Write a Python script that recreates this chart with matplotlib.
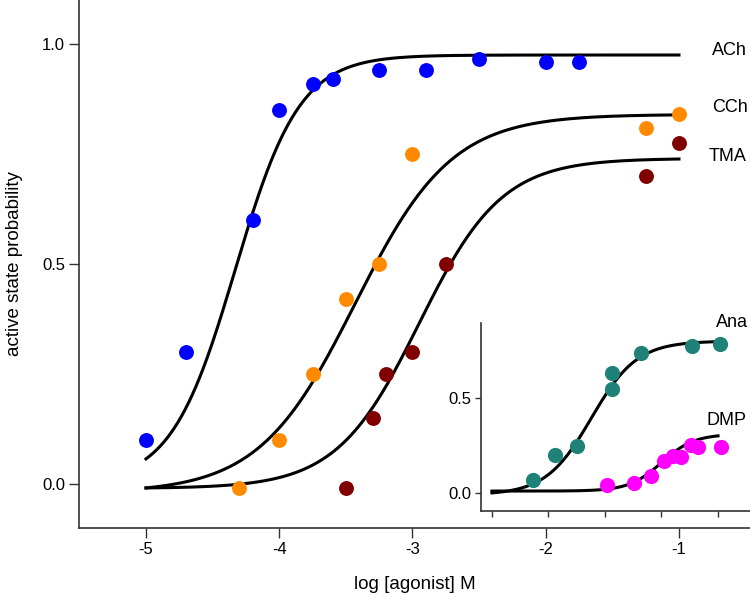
import numpy as np
import matplotlib
matplotlib.use("Agg")
import matplotlib.pyplot as plt

plt.rcParams["font.family"] = ["Liberation Sans", "DejaVu Sans"]

# main panel: log [agonist] M vs active state probability
ach_x = [-5.0, -4.7, -4.2, -4.0, -3.75, -3.6, -3.25, -2.9, -2.5, -2.0, -1.75]
ach_y = [0.10, 0.30, 0.60, 0.85, 0.91, 0.92, 0.94, 0.94, 0.965, 0.96, 0.96]
cch_x = [-4.3, -4.0, -3.75, -3.5, -3.25, -3.0, -1.25, -1.0]
cch_y = [-0.01, 0.10, 0.25, 0.42, 0.50, 0.75, 0.81, 0.84]
tma_x = [-3.5, -3.3, -3.2, -3.0, -2.75, -1.25, -1.0]
tma_y = [-0.01, 0.15, 0.25, 0.30, 0.50, 0.70, 0.775]

# fitted curves: (bottom, top, ec50, slope)
ach_fit = (0.0, 0.975, -4.33, 1.8)
cch_fit = (-0.02, 0.84, -3.43, 1.2)
tma_fit = (-0.01, 0.74, -2.95, 1.4)

# inset
ana_x = [-2.14, -1.94, -1.75, -1.44, -1.44, -1.18, -0.73, -0.48]
ana_y = [0.07, 0.20, 0.25, 0.55, 0.63, 0.735, 0.775, 0.784]
dmp_x = [-1.485, -1.24, -1.09, -0.98, -0.895, -0.83, -0.74, -0.675, -0.47]
dmp_y = [0.04, 0.05, 0.09, 0.17, 0.195, 0.19, 0.255, 0.24, 0.24]
ana_fit = (-0.01, 0.80, -1.62, 2.15)
dmp_fit = (0.01, 0.31, -1.0, 3.0)


def hill(x, p):
    b, top, ec, n = p
    return b + (top - b) / (1 + 10 ** ((ec - x) * n))


def style(ax, tick_len, size):
    for s in ("top", "right"):
        ax.spines[s].set_visible(False)
    for s in ("left", "bottom"):
        ax.spines[s].set_color("#333333")
        ax.spines[s].set_linewidth(1.2)
    ax.tick_params(direction="out", length=tick_len, width=1.0, color="#333333",
                   labelsize=size, pad=3)


fig = plt.figure(figsize=(7.5, 5.94), dpi=100)
ax = fig.add_axes([0.1053, 0.1111, 0.8947, 0.8889])
style(ax, 7, 12)

xs = np.linspace(-5, -1, 300)
for fit in (ach_fit, cch_fit, tma_fit):
    ax.plot(xs, hill(xs, fit), color="black", lw=2.2, zorder=2)
ax.scatter(ach_x, ach_y, s=115, color="#0000ff", lw=0, zorder=3)
ax.scatter(cch_x, cch_y, s=115, color="#ff8a00", lw=0, zorder=3)
ax.scatter(tma_x, tma_y, s=115, color="#800000", lw=0, zorder=3)

ax.text(-0.75, 0.985, "ACh", fontsize=13, va="center", ha="left")
ax.text(-0.75, 0.855, "CCh", fontsize=13, va="center", ha="left")
ax.text(-0.775, 0.745, "TMA", fontsize=13, va="center", ha="left")

ax.set_xlim(-5.503, -0.467)
ax.set_ylim(-0.1, 1.1)
ax.set_xticks([-5, -4, -3, -2, -1])
ax.set_xticklabels(["-5", "-4", "-3", "-2", "-1"])
ax.set_yticks([0.0, 0.5, 1.0])
ax.set_yticklabels(["0.0", "0.5", "1.0"])
ax.set_xlabel("log [agonist] M", fontsize=13.5, labelpad=14)
ax.set_ylabel("active state probability", fontsize=13.5, labelpad=14)

# inset
ins = fig.add_axes([0.6413, 0.1397, 0.3587, 0.3165])
style(ins, 4, 12)
xi = np.linspace(-2.5, -0.5, 300)
ins.plot(xi, hill(xi, ana_fit), color="black", lw=2.2, zorder=2)
ins.plot(xi, hill(xi, dmp_fit), color="black", lw=2.2, zorder=2)
ins.scatter(ana_x, ana_y, s=120, color="#1f8279", lw=0, zorder=3)
ins.scatter(dmp_x, dmp_y, s=120, color="#ff00ff", lw=0, zorder=3)
ins.text(-0.52, 0.90, "Ana", fontsize=13, va="center", ha="left")
ins.text(-0.60, 0.38, "DMP", fontsize=13, va="center", ha="left")
ins.set_xlim(-2.597, -0.217)
ins.set_ylim(-0.095, 0.895)
ins.set_xticks([-2.5, -2.0, -1.5, -1.0, -0.5])
ins.set_xticklabels([])
ins.set_yticks([0.0, 0.5])
ins.set_yticklabels(["0.0", "0.5"])

fig.savefig("out.png", dpi=100)
